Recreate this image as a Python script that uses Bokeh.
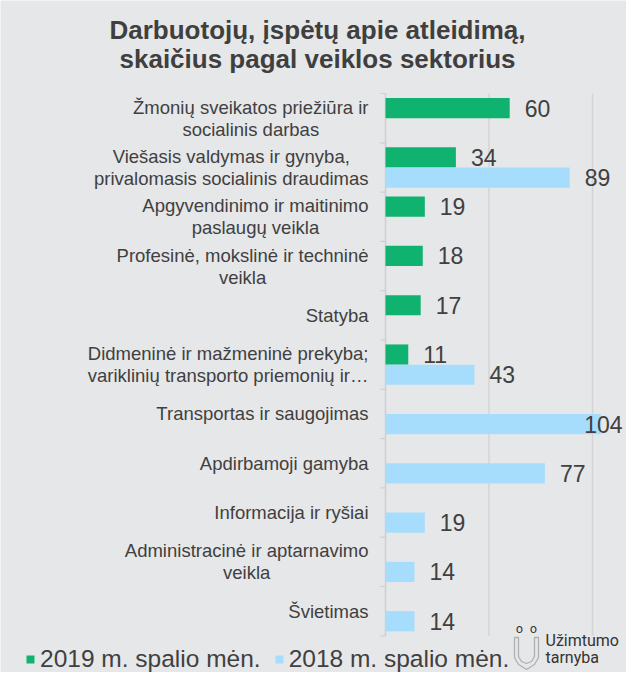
import glob
import subprocess
import numpy as np
from bokeh.plotting import figure
from bokeh.models import (ColumnDataSource, Range1d, Label, Legend, LegendItem, PolyAnnotation)
from bokeh.embed import file_html
from bokeh.resources import INLINE
from bokeh.core.properties import value

# ---------------- data ----------------
categories = [
    "Žmonių sveikatos priežiūra ir\nsocialinis darbas",
    "Viešasis valdymas ir gynyba,\nprivalomasis socialinis draudimas",
    "Apgyvendinimo ir maitinimo\npaslaugų veikla",
    "Profesinė, mokslinė ir techninė\nveikla",
    "Statyba",
    "Didmeninė ir mažmeninė prekyba;\nvariklinių transporto priemonių ir…",
    "Transportas ir saugojimas",
    "Apdirbamoji gamyba",
    "Informacija ir ryšiai",
    "Administracinė ir aptarnavimo\nveikla",
    "Švietimas",
]
values_2019 = [60, 34, 19, 18, 17, 11, None, None, None, None, None]
values_2018 = [None, 89, None, None, None, 43, 104, 77, 19, 14, 14]
series_names = ["2019 m. spalio mėn.", "2018 m. spalio mėn."]
title_lines = ["Darbuotojų, įspėtų apie atleidimą,", "skaičius pagal veiklos sektorius"]
grid_ticks = [50, 100]
logo_lines = ["Užimtumo", "tarnyba"]

# ---------------- style ----------------
BG = "#e6e7e9"
GREEN = "#10b26f"
BLUE = "#a6ddfd"
TEXT = "#404040"
GRID = "#d4d4d6"
AXIS = "#cfcfd1"
FONT = "Liberation Sans"

W, H = 626, 672
ZERO_PX = 385          # x pixel of value 0
PX_PER_UNIT = 2.07     # horizontal scale
TOP_PX = 93            # top of first category band
BAND_PX = 49.3         # height of one category band
CAT_FONT = 18.5
VAL_FONT = 23
TITLE_FONT = 26
LEGEND_FONT = 24.5
LOGO_FONT = 16
BASELINE_FIX = 0.48    # Label "alphabetic" anchor correction (fraction of font size)


def _font_path(bold=False):
    name = "LiberationSans-Bold.ttf" if bold else "LiberationSans-Regular.ttf"
    for root in ["/usr/share/fonts", "/usr/local/share/fonts"]:
        hits = glob.glob(root + "/**/" + name, recursive=True)
        if hits:
            return hits[0]
    try:
        out = subprocess.run(["fc-match", "-f", "%{file}", "Liberation Sans" + (":bold" if bold else "")],
                             capture_output=True, text=True).stdout.strip()
        if out:
            return out
    except Exception:
        pass
    return None


_FONT_CACHE = {}


def text_width(s, size):
    try:
        from PIL import ImageFont
        if "f" not in _FONT_CACHE:
            _FONT_CACHE["f"] = ImageFont.truetype(_font_path(), 100)
        return _FONT_CACHE["f"].getlength(s) * size / 100.0
    except Exception:
        return 0.52 * size * len(s)


n = len(categories)
pos = np.arange(n, dtype=float)
BAR_H = 0.41
SHIFT = 0.205

x_start = -ZERO_PX / PX_PER_UNIT
x_end = (W - ZERO_PX) / PX_PER_UNIT
y_top = -0.5 - TOP_PX / BAND_PX
y_bottom = n - 0.5 + (H - (TOP_PX + n * BAND_PX)) / BAND_PX

p = figure(width=W, height=H, output_backend="svg", toolbar_location=None,
           x_range=Range1d(x_start, x_end), y_range=Range1d(y_bottom, y_top),
           x_axis_location=None, y_axis_location=None,
           min_border=0, background_fill_color=BG, border_fill_color=BG,
           outline_line_color=None)
p.xgrid.visible = False
p.ygrid.visible = False

# vertical gridlines and the category axis (only over the category bands)
p.segment(x0=grid_ticks, x1=grid_ticks, y0=-0.5, y1=n - 0.5, line_color=GRID, line_width=1.5)
p.segment(x0=0, x1=0, y0=-0.5, y1=n - 0.5, line_color=AXIS, line_width=1.5)
p.ray(x=0, y=np.arange(n + 1) - 0.5, length=5, angle=np.pi, length_units="screen",
      line_color=AXIS, line_width=1.2)

# bars
idx19 = [i for i, v in enumerate(values_2019) if v is not None]
idx18 = [i for i, v in enumerate(values_2018) if v is not None]
src19 = ColumnDataSource(dict(y=pos[idx19] - SHIFT, v=[values_2019[i] for i in idx19]))
src18 = ColumnDataSource(dict(y=pos[idx18] + SHIFT, v=[values_2018[i] for i in idx18]))
r19 = p.hbar(y="y", right="v", left=0, height=BAR_H, fill_color=GREEN, line_color=None, source=src19)
r18 = p.hbar(y="y", right="v", left=0, height=BAR_H, fill_color=BLUE, line_color=None, source=src18)

# value labels
LABEL_GAP = 15
LIMIT_PX = W - 4


def _offsets(vals):
    out = []
    for v in vals:
        w = text_width(str(v), VAL_FONT)
        end = ZERO_PX + v * PX_PER_UNIT
        off = LABEL_GAP
        if end + off + w > LIMIT_PX:
            off = LIMIT_PX - w - end
        out.append(off)
    return out


for src in (src19, src18):
    vals = list(src.data["v"])
    lab = ColumnDataSource(dict(x=vals, y=list(src.data["y"]), t=[str(v) for v in vals],
                                off=_offsets(vals)))
    p.text(x="x", y="y", text="t", x_offset="off", text_align="left", text_baseline="middle",
           text_font=value(FONT), text_font_size=f"{VAL_FONT}px", text_color=TEXT, source=lab)

# category labels: block right-aligned to the axis, lines centred within the block
CAT_GAP = 17
cat_off = []
for c in categories:
    wmax = max(text_width(line, CAT_FONT) for line in c.split("\n"))
    cat_off.append(-(CAT_GAP + wmax / 2.0))
cat_src = ColumnDataSource(dict(x=[0] * n, y=pos, t=categories, off=cat_off))
p.text(x="x", y="y", text="t", x_offset="off", text_align="center", text_baseline="middle",
       text_font=value(FONT), text_font_size=f"{CAT_FONT}px", text_color=TEXT,
       text_line_height=1.05, source=cat_src)


# picture pixel -> screen units (frame == whole figure, y measured from the bottom)
def sx(px):
    return px


def sy(py):
    return H - py


def base_y(py, size):
    return sy(py - BASELINE_FIX * size)


# title
for line, base in zip(title_lines, [42, 71]):
    p.add_layout(Label(x=sx(317), y=base_y(base, TITLE_FONT), x_units="screen", y_units="screen",
                       text=line, text_align="center", text_baseline="alphabetic", text_font=FONT,
                       text_font_size=f"{TITLE_FONT}px", text_font_style="bold",
                       text_color="#3f3f3f"))

# legend
legend = Legend(items=[LegendItem(label=series_names[0], renderers=[r19]),
                       LegendItem(label=series_names[1], renderers=[r18])],
                orientation="horizontal", location=(sx(25), sy(673)),
                glyph_width=10, glyph_height=10, label_text_font=FONT,
                label_text_font_size=f"{LEGEND_FONT}px", label_text_color=TEXT, label_standoff=5,
                label_height=22, spacing=13, padding=0, margin=0, background_fill_alpha=0,
                border_line_color=None)
p.add_layout(legend)

# logo
for line, base in zip(logo_lines, [648, 665]):
    p.add_layout(Label(x=sx(545), y=base_y(base, LOGO_FONT), x_units="screen", y_units="screen",
                       text=line, text_align="left", text_baseline="alphabetic", text_font="Roboto",
                       text_font_size=f"{LOGO_FONT}px", text_color="#333333"))
for cx in (519, 533):
    p.add_layout(Label(x=sx(cx), y=sy(628), x_units="screen", y_units="screen", text="o",
                       text_align="center", text_baseline="middle", text_font="DejaVu Sans",
                       text_font_size="12px", text_color="#333333"))
u_pts = [(514, 637), (514, 657), (518, 664), (526, 669), (534, 664), (538, 657), (538, 637),
         (534, 637), (534, 656), (531, 661), (526, 663), (521, 661), (518, 656), (518, 637)]
p.add_layout(PolyAnnotation(xs=[sx(a) for a, b in u_pts], ys=[sy(b) for a, b in u_pts],
                            xs_units="screen", ys_units="screen", fill_alpha=0,
                            line_color="#333333", line_width=1.3))

open("out.html", "w").write(file_html(p, INLINE))
